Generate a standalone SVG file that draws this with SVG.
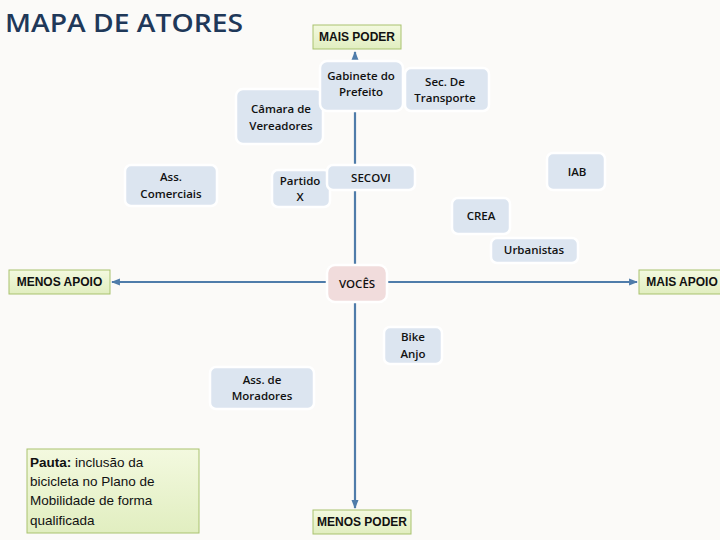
<svg xmlns="http://www.w3.org/2000/svg" width="720" height="540" viewBox="0 0 720 540">
<defs>
<marker id="ah" viewBox="0 0 10 10" refX="9" refY="5" markerWidth="4" markerHeight="4" orient="auto-start-reverse">
<path d="M0,1 L10,5 L0,9 z" fill="#4F7CAA"/>
</marker>
<linearGradient id="gg" x1="0" y1="0" x2="0" y2="1">
<stop offset="0" stop-color="#F3F9DF"/>
<stop offset="1" stop-color="#E1EEC0"/>
</linearGradient>
</defs>
<style>
.t{font-family:"Open Sans","Liberation Sans",Arial,sans-serif;font-size:11.5px;font-weight:600;fill:#111;text-anchor:middle}
.b{font-family:"Liberation Sans",Arial,sans-serif;font-size:12px;font-weight:bold}
.blue{fill:#DCE5F0;stroke:#FFFFFF;stroke-width:2.5}
.pink{fill:#F1DCDC;stroke:#FFFFFF;stroke-width:2.5}
.green{fill:url(#gg);stroke:#A9C26E;stroke-width:1}
.ax{stroke:#4F7CAA;stroke-width:2.2;fill:none}
</style>
<rect width="720" height="540" fill="#FBFAF8"/>
<text x="5" y="32" font-family="Open Sans,Liberation Sans,sans-serif" font-size="26" font-weight="600" fill="#1F3859" textLength="238" lengthAdjust="spacingAndGlyphs">MAPA DE ATORES</text>

<g id="connectors">
<line class="ax" x1="355" y1="508" x2="355" y2="52" marker-start="url(#ah)" marker-end="url(#ah)"/>
<line class="ax" x1="112" y1="282" x2="637" y2="282" marker-start="url(#ah)" marker-end="url(#ah)"/>
</g>

<g id="mais-poder"><rect class="green" x="313" y="25" width="88" height="24"/><text class="t b" x="357" y="41">MAIS PODER</text></g>
<g id="menos-poder"><rect class="green" x="313" y="510" width="98" height="24"/><text class="t b" x="362" y="526">MENOS PODER</text></g>
<g id="menos-apoio"><rect class="green" x="9" y="270" width="101" height="24"/><text class="t b" x="59.5" y="286">MENOS APOIO</text></g>
<g id="mais-apoio"><rect class="green" x="639" y="270" width="90" height="24"/><text class="t b" x="682" y="286">MAIS APOIO</text></g>

<g id="camara"><rect class="blue" x="236" y="89" width="87" height="55" rx="7"/><text class="t" x="281" y="113">Câmara de</text><text class="t" x="281" y="130">Vereadores</text></g>
<g id="gabinete"><rect class="blue" x="320" y="61" width="83" height="50" rx="7"/><text class="t" x="361" y="80">Gabinete do</text><text class="t" x="361" y="96">Prefeito</text></g>
<g id="sec-transporte"><rect class="blue" x="405" y="68" width="84" height="43" rx="6"/><text class="t" x="445" y="86">Sec. De</text><text class="t" x="445" y="102">Transporte</text></g>
<g id="ass-comerciais"><rect class="blue" x="125" y="165" width="92" height="41" rx="6"/><text class="t" x="171" y="181">Ass.</text><text class="t" x="171" y="198">Comerciais</text></g>
<g id="partido-x"><rect class="blue" x="272" y="170" width="58" height="37" rx="6"/><text class="t" x="300" y="185">Partido</text><text class="t" x="300" y="201">X</text></g>
<g id="secovi"><rect class="blue" x="327" y="165" width="88" height="25" rx="6"/><text class="t" x="371" y="182">SECOVI</text></g>
<g id="iab"><rect class="blue" x="547" y="153" width="58" height="37" rx="6"/><text class="t" x="577" y="176">IAB</text></g>
<g id="crea"><rect class="blue" x="452" y="198" width="58" height="36" rx="6"/><text class="t" x="481" y="220">CREA</text></g>
<g id="urbanistas"><rect class="blue" x="491" y="238" width="87" height="25" rx="6"/><text class="t" x="534" y="254">Urbanistas</text></g>
<g id="voces"><rect class="pink" x="327" y="265" width="60" height="37" rx="8"/><text class="t" x="357" y="288">VOCÊS</text></g>
<g id="bike-anjo"><rect class="blue" x="384" y="327" width="58" height="37" rx="6"/><text class="t" x="413" y="341">Bike</text><text class="t" x="413" y="358">Anjo</text></g>
<g id="ass-moradores"><rect class="blue" x="210" y="367" width="104" height="42" rx="6"/><text class="t" x="262" y="384">Ass. de</text><text class="t" x="262" y="400">Moradores</text></g>

<g id="pauta"><rect class="green" x="27" y="449" width="172" height="84"/>
<text font-family="Liberation Sans,Arial,sans-serif" font-size="13.5" fill="#111">
<tspan x="30" y="467"><tspan font-weight="bold">Pauta:</tspan> inclusão da</tspan>
<tspan x="30" y="486">bicicleta no Plano de</tspan>
<tspan x="30" y="505">Mobilidade de forma</tspan>
<tspan x="30" y="525">qualificada</tspan>
</text></g>
</svg>
